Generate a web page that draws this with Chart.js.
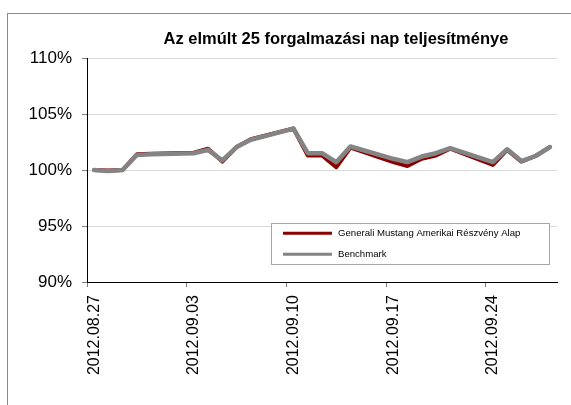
<!DOCTYPE html>
<html><head><meta charset="utf-8">
<script src="https://cdn.jsdelivr.net/npm/chart.js@4.4.0/dist/chart.umd.min.js"></script>
<style>
html,body{margin:0;padding:0;background:#fff;overflow:hidden;width:571px;height:405px;}
#frame{position:absolute;left:7px;top:13px;width:700px;height:500px;border:1px solid #8a8a8a;}
#c{position:absolute;left:0;top:0;}
</style></head><body>
<div id="frame"></div>
<canvas id="c" width="672" height="405"></canvas>
<script>
const titleText = 'Az elmúlt 25 forgalmazási nap teljesítménye';
const seriesNames = ['Generali Mustang Amerikai Részvény Alap', 'Benchmark'];
const tradingDays = ['2012.08.27','2012.08.28','2012.08.29','2012.08.30','2012.08.31',
  '2012.09.03','2012.09.04','2012.09.05','2012.09.06','2012.09.07',
  '2012.09.10','2012.09.11','2012.09.12','2012.09.13','2012.09.14',
  '2012.09.17','2012.09.18','2012.09.19','2012.09.20','2012.09.21',
  '2012.09.24','2012.09.25','2012.09.26','2012.09.27','2012.09.28'];
const fundValues = [100.0, 99.95, 100.0, 101.4, 101.45,
  101.55, 101.9, 100.75, 102.05, 102.75,
  103.7, 101.3, 101.3, 100.25, 102.0,
  100.7, 100.35, 101.0, 101.3, 101.9,
  100.45, 101.8, 100.75, 101.25, 102.05];
const benchmarkValues = [100.0, 99.9, 100.0, 101.35, 101.4,
  101.5, 101.8, 100.85, 102.05, 102.7,
  103.7, 101.5, 101.5, 100.7, 102.1,
  101.0, 100.7, 101.2, 101.5, 101.95,
  100.7, 101.85, 100.8, 101.25, 102.05];
const yTickValues = [90, 95, 100, 105, 110];
const labelEveryDays = 7;

const FONT = "'Liberation Sans',Arial,Helvetica,sans-serif";

function parseDay(s){ const [y,m,d] = s.split('.').map(Number); return Date.UTC(y, m-1, d); }
function fmt(t){ const d = new Date(t); const p = n => String(n).padStart(2,'0');
  return d.getUTCFullYear() + '.' + p(d.getUTCMonth()+1) + '.' + p(d.getUTCDate()); }
const calendar = [];
for (let t = parseDay(tradingDays[0]); t <= parseDay(tradingDays[tradingDays.length-1]); t += 86400000) calendar.push(fmt(t));
function spread(vals){ const arr = calendar.map(() => null);
  tradingDays.forEach((d, i) => { arr[calendar.indexOf(d)] = vals[i]; }); return arr; }

const boxLegend = {
  id: 'boxLegend',
  afterDatasetsDraw(chart){
    const ctx = chart.ctx, a = chart.chartArea;
    const x = a.left + 184, y = a.top + 164.7, w = 278, h = 41.3;
    ctx.save();
    ctx.fillStyle = '#fff';
    ctx.fillRect(x, y, w, h);
    ctx.strokeStyle = '#a6a6a6'; ctx.lineWidth = 1;
    ctx.strokeRect(Math.round(x)+0.5, Math.round(y)+0.5, Math.round(w), Math.round(h));
    const rows = [10.6, 31.6];
    chart.data.datasets.forEach((ds, i) => {
      const yy = y + rows[i];
      ctx.strokeStyle = ds.borderColor; ctx.lineWidth = 3; ctx.lineCap = 'butt';
      ctx.beginPath(); ctx.moveTo(x + 12, yy); ctx.lineTo(x + 61, yy); ctx.stroke();
      ctx.fillStyle = '#000'; ctx.font = '9.6px ' + FONT; ctx.textBaseline = 'middle'; ctx.textAlign = 'left';
      ctx.fillText(ds.label, x + 67, yy);
    });
    ctx.restore();
  }
};

const tickCol = c => (c.index % labelEveryDays === 0) ? '#808080' : 'rgba(0,0,0,0)';

new Chart(document.getElementById('c'), {
  type: 'line',
  data: {
    labels: calendar,
    datasets: [
      { label: seriesNames[0], data: spread(fundValues), borderColor: '#8b0000', borderWidth: 4,
        pointRadius: 0, spanGaps: true, tension: 0, borderJoinStyle: 'round', borderCapStyle: 'round', order: 2, fill: false },
      { label: seriesNames[1], data: spread(benchmarkValues), borderColor: '#848484', borderWidth: 4.5,
        pointRadius: 0, spanGaps: true, tension: 0, borderJoinStyle: 'round', borderCapStyle: 'round', order: 1, fill: false }
    ]
  },
  options: {
    responsive: false, animation: false, devicePixelRatio: 1,
    layout: { padding: 0 },
    plugins: {
      legend: { display: false },
      tooltip: { enabled: false },
      title: { display: true, text: titleText, color: '#000',
        font: { family: FONT, size: 16.5, weight: 'bold' }, padding: { top: 29.6, bottom: 8.6 } }
    },
    scales: {
      x: {
        type: 'category', offset: true,
        grid: { offset: true, drawOnChartArea: false, drawTicks: true, tickLength: 5, color: tickCol, tickColor: tickCol },
        border: { color: '#000', width: 1 },
        ticks: { autoSkip: false, minRotation: 90, maxRotation: 90, padding: 8, color: '#000',
          font: { family: FONT, size: 16 },
          callback: (v, i) => (i % labelEveryDays === 0) ? calendar[i] : '' },
        afterFit: s => { s.height = 123; }
      },
      y: {
        min: yTickValues[0], max: yTickValues[yTickValues.length-1],
        afterBuildTicks: s => { s.ticks = yTickValues.map(v => ({ value: v })); },
        grid: { color: '#d9d9d9', tickColor: '#808080', tickLength: 5 },
        border: { color: '#000', width: 1 },
        ticks: { color: '#000', padding: 10, font: { family: FONT, size: 17 }, callback: v => v + '%' },
        afterFit: s => { s.width = 87; }
      },
      spacer: {
        type: 'linear', position: 'right', display: true,
        grid: { display: false }, border: { display: false }, ticks: { display: false },
        afterFit: s => { s.width = 115; }
      }
    }
  },
  plugins: [boxLegend]
});
</script>
</body></html>
